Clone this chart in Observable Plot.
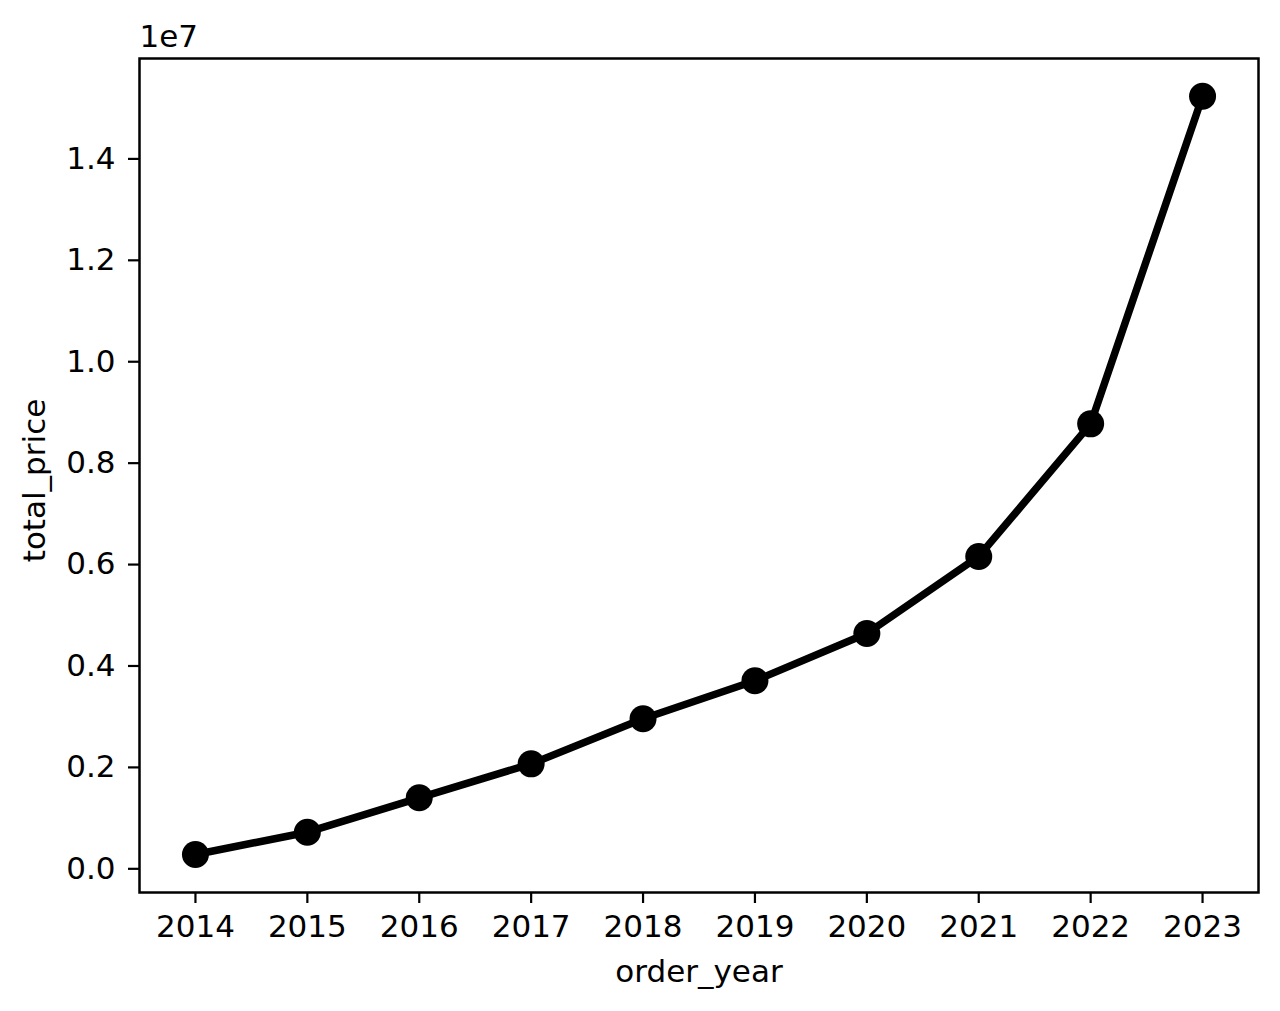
<!DOCTYPE html>
<html>
<head>
<meta charset="utf-8">
<script src="https://cdn.jsdelivr.net/npm/d3@7"></script>
<script src="https://cdn.jsdelivr.net/npm/@observablehq/plot@0.6"></script>
<style>
  html, body { margin: 0; padding: 0; background: #fff; }
  svg { display: block; }
</style>
</head>
<body>
<div id="chart"></div>
<script>
const years = [2014, 2015, 2016, 2017, 2018, 2019, 2020, 2021, 2022, 2023];
const totalPrice = [282000, 722000, 1400000, 2070000, 2960000, 3710000, 4640000, 6160000, 8775000, 15236000];
const yTicks = [0, 2e6, 4e6, 6e6, 8e6, 10e6, 12e6, 14e6];

const data = years.map((y, i) => ({order_year: y, total_price: totalPrice[i]}));

const FONT = 31;
const chart = Plot.plot({
  width: 1280,
  height: 1011,
  marginLeft: 139,
  marginRight: 22,
  marginTop: 58,
  marginBottom: 119,
  style: {fontFamily: "DejaVu Sans", fontSize: FONT + "px", color: "#000", background: "#fff"},
  x: {domain: [2013.5, 2023.5]},
  y: {domain: [-0.0467e7, 1.598e7]},
  marks: [
    Plot.axisX(years, {tickSize: 11, tickPadding: 11, tickFormat: d => String(d), label: null, strokeWidth: 2.2, fontSize: FONT}),
    Plot.axisY(yTicks, {tickSize: 11, tickPadding: 13, tickFormat: d => (d / 1e7).toFixed(1), label: null, strokeWidth: 2.2, fontSize: FONT}),
    Plot.frame({stroke: "#000", strokeWidth: 2.5}),
    Plot.line(data, {x: "order_year", y: "total_price", stroke: "#000", strokeWidth: 7.5}),
    Plot.dot(data, {x: "order_year", y: "total_price", r: 13.5, fill: "#000", stroke: "none"}),
    Plot.text(["order_year"], {frameAnchor: "bottom", dy: 89, text: d => d, fontSize: FONT, fill: "#000"}),
    Plot.text(["total_price"], {frameAnchor: "left", textAnchor: "middle", lineAnchor: "middle", dx: -104, dy: 5, rotate: -90, text: d => d, fontSize: FONT, fill: "#000"}),
    Plot.text(["1e7"], {frameAnchor: "top-left", textAnchor: "start", lineAnchor: "middle", dx: 0, dy: -21, text: d => d, fontSize: FONT, fill: "#000"})
  ]
});
document.getElementById("chart").appendChild(chart);
</script>
</body>
</html>
